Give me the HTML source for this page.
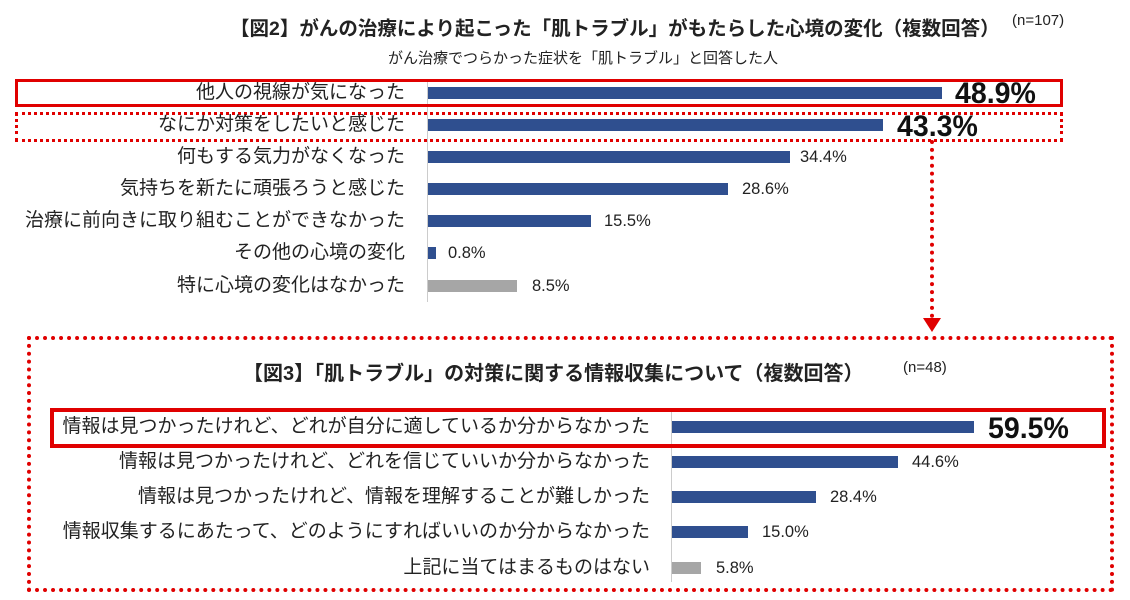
<!DOCTYPE html>
<html><head><meta charset="utf-8"><style>
body{margin:0;width:1130px;height:600px;background:#fff;position:relative;overflow:hidden;font-family:"Liberation Sans","Noto Sans CJK JP",sans-serif;color:#222}
.a{position:absolute;white-space:nowrap}
.l{position:absolute;text-align:right;font-size:19px;line-height:24px;white-space:nowrap}
.l2{font-size:19px}
.b{position:absolute;height:12px;background:#2f4f8f}
.g{background:#a6a6a6}
.v{position:absolute;font-size:16.5px;line-height:20px}
.big{position:absolute;font-size:30px;font-weight:bold;line-height:34px;color:#111;transform:scaleX(0.95);transform-origin:left}
</style></head><body>
<div class="a" style="left:230px;top:12px;font-size:19.5px;font-weight:bold;">【図2】がんの治療により起こった「肌トラブル」がもたらした心境の変化（複数回答）</div>
<div class="a" style="left:1012px;top:12px;font-size:15px;">(n=107)</div>
<div class="a" style="left:388px;top:47px;font-size:15px;">がん治療でつらかった症状を「肌トラブル」と回答した人</div>
<div class="a" style="left:427px;top:80px;width:1px;height:222px;background:#ccc"></div>
<div class="a" style="left:15px;top:79px;width:1042px;height:22px;border:3px solid #e00000"></div>
<div class="a" style="left:15px;top:112px;width:1042px;height:24px;border:3px dotted #e00000"></div>
<div class="l" style="left:0;width:405px;top:81px">他人の視線が気になった</div>
<div class="l" style="left:0;width:405px;top:113px">なにか対策をしたいと感じた</div>
<div class="l" style="left:0;width:405px;top:145px">何もする気力がなくなった</div>
<div class="l" style="left:0;width:405px;top:177px">気持ちを新たに頑張ろうと感じた</div>
<div class="l" style="left:0;width:405px;top:209px">治療に前向きに取り組むことができなかった</div>
<div class="l" style="left:0;width:405px;top:241px">その他の心境の変化</div>
<div class="l" style="left:0;width:405px;top:274px">特に心境の変化はなかった</div>
<div class="b" style="left:428px;width:514px;top:87px"></div>
<div class="b" style="left:428px;width:455px;top:119px"></div>
<div class="b" style="left:428px;width:362px;top:151px"></div>
<div class="b" style="left:428px;width:300px;top:183px"></div>
<div class="b" style="left:428px;width:163px;top:215px"></div>
<div class="b" style="left:428px;width:8px;top:247px"></div>
<div class="b g" style="left:428px;width:89px;top:280px"></div>
<div class="big" style="left:955px;top:77px">48.9%</div>
<div class="big" style="left:897px;top:110px">43.3%</div>
<div class="v" style="left:800px;top:147px">34.4%</div>
<div class="v" style="left:742px;top:179px">28.6%</div>
<div class="v" style="left:604px;top:211px">15.5%</div>
<div class="v" style="left:448px;top:243px">0.8%</div>
<div class="v" style="left:532px;top:276px">8.5%</div>
<div class="a" style="left:930px;top:140px;width:0;height:178px;border-left:4px dotted #e00000"></div>
<div class="a" style="left:923px;top:318px;width:0;height:0;border-left:9px solid transparent;border-right:9px solid transparent;border-top:14px solid #e00000"></div>
<div class="a" style="left:27px;top:336px;width:1079px;height:248px;border:4px dotted #e00000"></div>
<div class="a" style="left:243px;top:357px;font-size:20px;font-weight:bold;">【図3】「肌トラブル」の対策に関する情報収集について（複数回答）</div>
<div class="a" style="left:903px;top:359px;font-size:15px;">(n=48)</div>
<div class="a" style="left:671px;top:410px;width:1px;height:172px;background:#ccc"></div>
<div class="a" style="left:50px;top:408px;width:1048px;height:32px;border:4px solid #e00000"></div>
<div class="l l2" style="left:0;width:650px;top:415px">情報は見つかったけれど、どれが自分に適しているか分からなかった</div>
<div class="l l2" style="left:0;width:650px;top:450px">情報は見つかったけれど、どれを信じていいか分からなかった</div>
<div class="l l2" style="left:0;width:650px;top:485px">情報は見つかったけれど、情報を理解することが難しかった</div>
<div class="l l2" style="left:0;width:650px;top:520px">情報収集するにあたって、どのようにすればいいのか分からなかった</div>
<div class="l l2" style="left:0;width:650px;top:556px">上記に当てはまるものはない</div>
<div class="b" style="left:672px;width:302px;top:421px"></div>
<div class="b" style="left:672px;width:226px;top:456px"></div>
<div class="b" style="left:672px;width:144px;top:491px"></div>
<div class="b" style="left:672px;width:76px;top:526px"></div>
<div class="b g" style="left:672px;width:29px;top:562px"></div>
<div class="big" style="left:988px;top:412px">59.5%</div>
<div class="v" style="left:912px;top:452px">44.6%</div>
<div class="v" style="left:830px;top:487px">28.4%</div>
<div class="v" style="left:762px;top:522px">15.0%</div>
<div class="v" style="left:716px;top:558px">5.8%</div>
</body></html>
